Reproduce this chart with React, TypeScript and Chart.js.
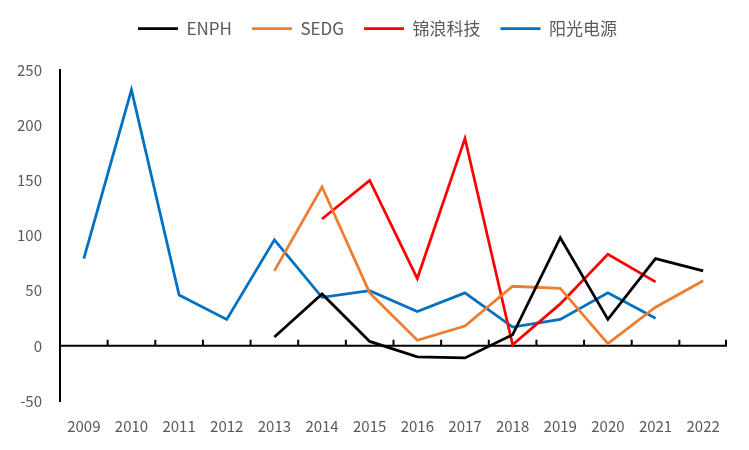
import React, { useEffect, useRef } from 'react';
import { Chart, registerables } from 'chart.js';

Chart.register(...registerables);

const years = ['2009', '2010', '2011', '2012', '2013', '2014', '2015', '2016', '2017', '2018', '2019', '2020', '2021', '2022'];
const enph = [null, null, null, null, 8, 47, 4, -10, -11, 10, 98, 24, 79, 68];
const sedg = [null, null, null, null, 68, 144, 48, 5, 18, 54, 52, 2, 35, 59];
const jinlang = [null, null, null, null, null, 115, 150, 61, 188, 1, 38, 83, 58, null];
const sungrow = [79, 232, 46, 24, 96, 44, 50, 31, 48, 17, 24, 48, 25, null];

const FONT = '"Noto Sans CJK SC", "Noto Sans", sans-serif';
const TEXT = '#595959';

// push the plot down below the legend, and nudge the legend right
const legendGap = {
    id: 'legendGap',
    beforeInit(chart) {
        const fit = chart.legend.fit;
        chart.legend.fit = function () {
            fit.call(this);
            this.height += 23;
        };
    },
    afterLayout(chart) {
        chart.legend.left += 14;
        chart.legend.right += 14;
    }
};

// zero line with small upward ticks between categories
const zeroAxis = {
    id: 'zeroAxis',
    beforeDatasetsDraw(chart) {
        const { ctx, chartArea, scales } = chart;
        const x = scales.x;
        const y0 = scales.y.getPixelForValue(0);
        ctx.save();
        ctx.strokeStyle = '#000';
        ctx.lineWidth = 2;
        ctx.beginPath();
        ctx.moveTo(chartArea.left, y0);
        ctx.lineTo(chartArea.right, y0);
        for (let i = 0; i < years.length - 1; i++) {
            const bx = (x.getPixelForTick(i) + x.getPixelForTick(i + 1)) / 2;
            ctx.moveTo(bx, y0);
            ctx.lineTo(bx, y0 - 6);
        }
        ctx.moveTo(chartArea.right - 1, y0);
        ctx.lineTo(chartArea.right - 1, y0 - 6);
        ctx.stroke();
        ctx.restore();
    }
};

const line = (label, data, color) => ({
    label,
    data,
    borderColor: color,
    backgroundColor: color,
    borderWidth: 2.75,
    pointRadius: 0,
    tension: 0,
    fill: false
});

export default function App() {
    const chartRef = useRef(null);

    useEffect(() => {
        const chart = new Chart(chartRef.current.getContext('2d'), {
            type: 'line',
            data: {
                labels: years,
                datasets: [
                    line('ENPH', enph, '#000000'),
                    line('SEDG', sedg, '#ED7D31'),
                    line('锦浪科技', jinlang, '#FF0000'),
                    line('阳光电源', sungrow, '#0070C0')
                ]
            },
            options: {
                animation: false,
                responsive: true,
                maintainAspectRatio: false,
                layout: { padding: { top: 0, right: 22, bottom: 0, left: 0 } },
                plugins: {
                    legend: {
                        position: 'top',
                        labels: {
                            usePointStyle: true,
                            pointStyle: 'line',
                            pointStyleWidth: 40,
                            padding: 20,
                            color: TEXT,
                            font: { family: FONT, size: 17 }
                        }
                    },
                    tooltip: { enabled: false }
                },
                scales: {
                    x: {
                        offset: true,
                        grid: { display: false, offset: true },
                        border: { display: false },
                        afterFit: (scale) => { scale.height = 49; },
                        ticks: {
                            color: TEXT,
                            padding: 8,
                            maxRotation: 0,
                            autoSkip: false,
                            font: { family: FONT, size: 15 }
                        }
                    },
                    y: {
                        min: -50,
                        max: 250,
                        grid: { display: false, drawTicks: false },
                        border: { display: true, color: '#000', width: 2 },
                        afterFit: (scale) => { scale.width = 60; },
                        ticks: {
                            stepSize: 50,
                            color: TEXT,
                            padding: 18,
                            font: { family: FONT, size: 15 }
                        }
                    }
                }
            },
            plugins: [legendGap, zeroAxis]
        });

        return () => {
            chart.destroy();
        };
    }, []);

    return (
        <div style={{ position: 'fixed', left: 0, top: 0, width: 749, height: 450, background: '#fff' }}>
            <canvas ref={chartRef} />
        </div>
    );
}
